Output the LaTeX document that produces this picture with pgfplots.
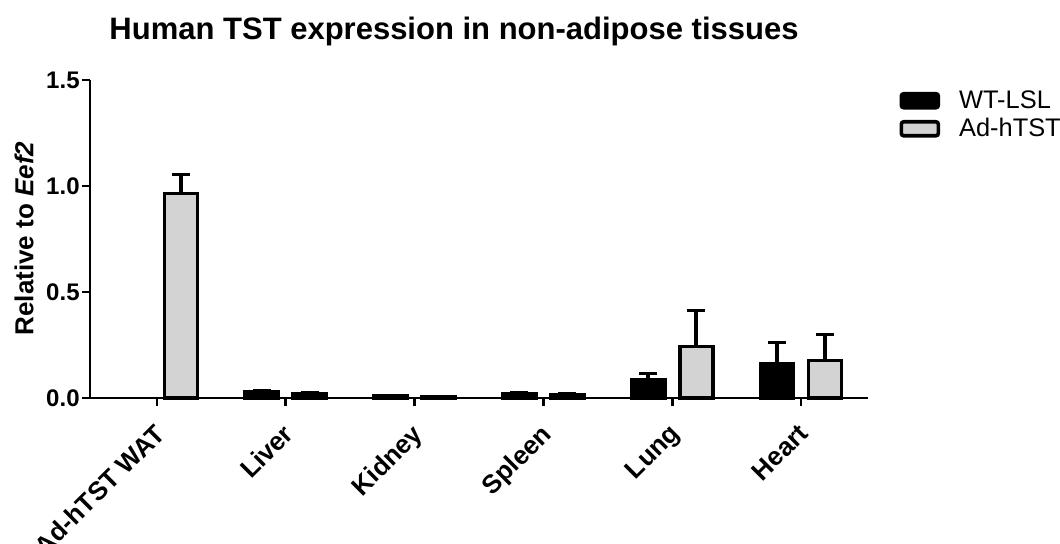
\documentclass[border=0pt]{standalone}
\usepackage{fontspec}
\setmainfont{Liberation Sans}
\usepackage{pgfplots}
\usepackage{pgfplotstable}
\pgfplotsset{compat=1.18}
\definecolor{barg}{RGB}{211,211,211}

\pgfplotstableread{
x y e
1 0.030 0.005
2 0.008 0.002
3 0.020 0.005
4 0.087 0.029
5 0.163 0.099
}\wtdata
\pgfplotstableread{
x y e
0 0.965 0.089
1 0.020 0.004
2 0.005 0.001
3 0.015 0.003
4 0.243 0.170
5 0.177 0.123
}\addata

\begin{document}
\begin{tikzpicture}
\useasboundingbox (0,0) rectangle (530pt,272pt);
\begin{axis}[
  at={(45pt,73pt)}, anchor=south west,
  scale only axis, width=389pt, height=159pt,
  xmin=-0.52, xmax=5.52, ymin=0, ymax=1.5,
  axis lines=left,
  axis line style={-, line width=1.4pt, black},
  tick style={line width=1.4pt, black},
  tick align=outside, major tick length=4pt,
  xtick={0,1,2,3,4,5},
  xticklabels={Ad-hTST WAT, Liver, Kidney, Spleen, Lung, Heart},
  ytick={0,0.5,1,1.5},
  yticklabel style={/pgf/number format/fixed, /pgf/number format/fixed zerofill, /pgf/number format/precision=1,
    font=\bfseries\fontsize{12}{14}\selectfont, inner sep=0.5pt, xshift=-0.5pt},
  /pgf/number format/assume math mode=true,
  xticklabel style={font=\bfseries\fontsize{13}{15}\selectfont, inner sep=0pt, xshift=-2pt, yshift=-8pt, rotate=45, anchor=north east},
  ybar=7.5pt, bar width=16.5pt,
  legend style={at={(1.04,0.975)}, anchor=north west, draw=none, fill=none,
    font=\fontsize{12.7}{14}\selectfont, row sep=1.5pt, inner sep=0pt,
    nodes={inner sep=1pt},
    /tikz/every odd column/.append style={column sep=8.5pt}},
  legend cell align=left,
  clip=false,
]
\addplot[fill=black, draw=black, line width=1.8pt,
  legend image code/.code={\draw[fill=black, draw=black, line width=1.8pt, rounded corners=1.2pt] (0pt,-3.5pt) rectangle (18.5pt,3.5pt);},
  error bars/.cd, y dir=plus, y explicit,
  error bar style={line width=1.8pt, black},
  error mark options={rotate=90, mark size=4.5pt, line width=1.8pt, black}]
  table[x=x, y=y, y error=e] {\wtdata};
\addlegendentry{WT-LSL}
\addplot[fill=barg, draw=black, line width=1.8pt,
  legend image code/.code={\draw[fill=barg, draw=black, line width=1.8pt, rounded corners=1.2pt] (0pt,-3.5pt) rectangle (18.5pt,3.5pt);},
  error bars/.cd, y dir=plus, y explicit,
  error bar style={line width=1.8pt, black},
  error mark options={rotate=90, mark size=4.5pt, line width=1.8pt, black}]
  table[x=x, y=y, y error=e] {\addata};
\addlegendentry{Ad-hTST}
\end{axis}
\node[font=\bfseries\fontsize{15.5}{18}\selectfont, anchor=base] at (227pt,252.25pt) {Human TST expression in non-adipose tissues};
\node[rotate=90, font=\bfseries\fontsize{13}{15}\selectfont] at (12pt,152.75pt) {Relative to \textit{Eef2}};
\end{tikzpicture}
\end{document}
